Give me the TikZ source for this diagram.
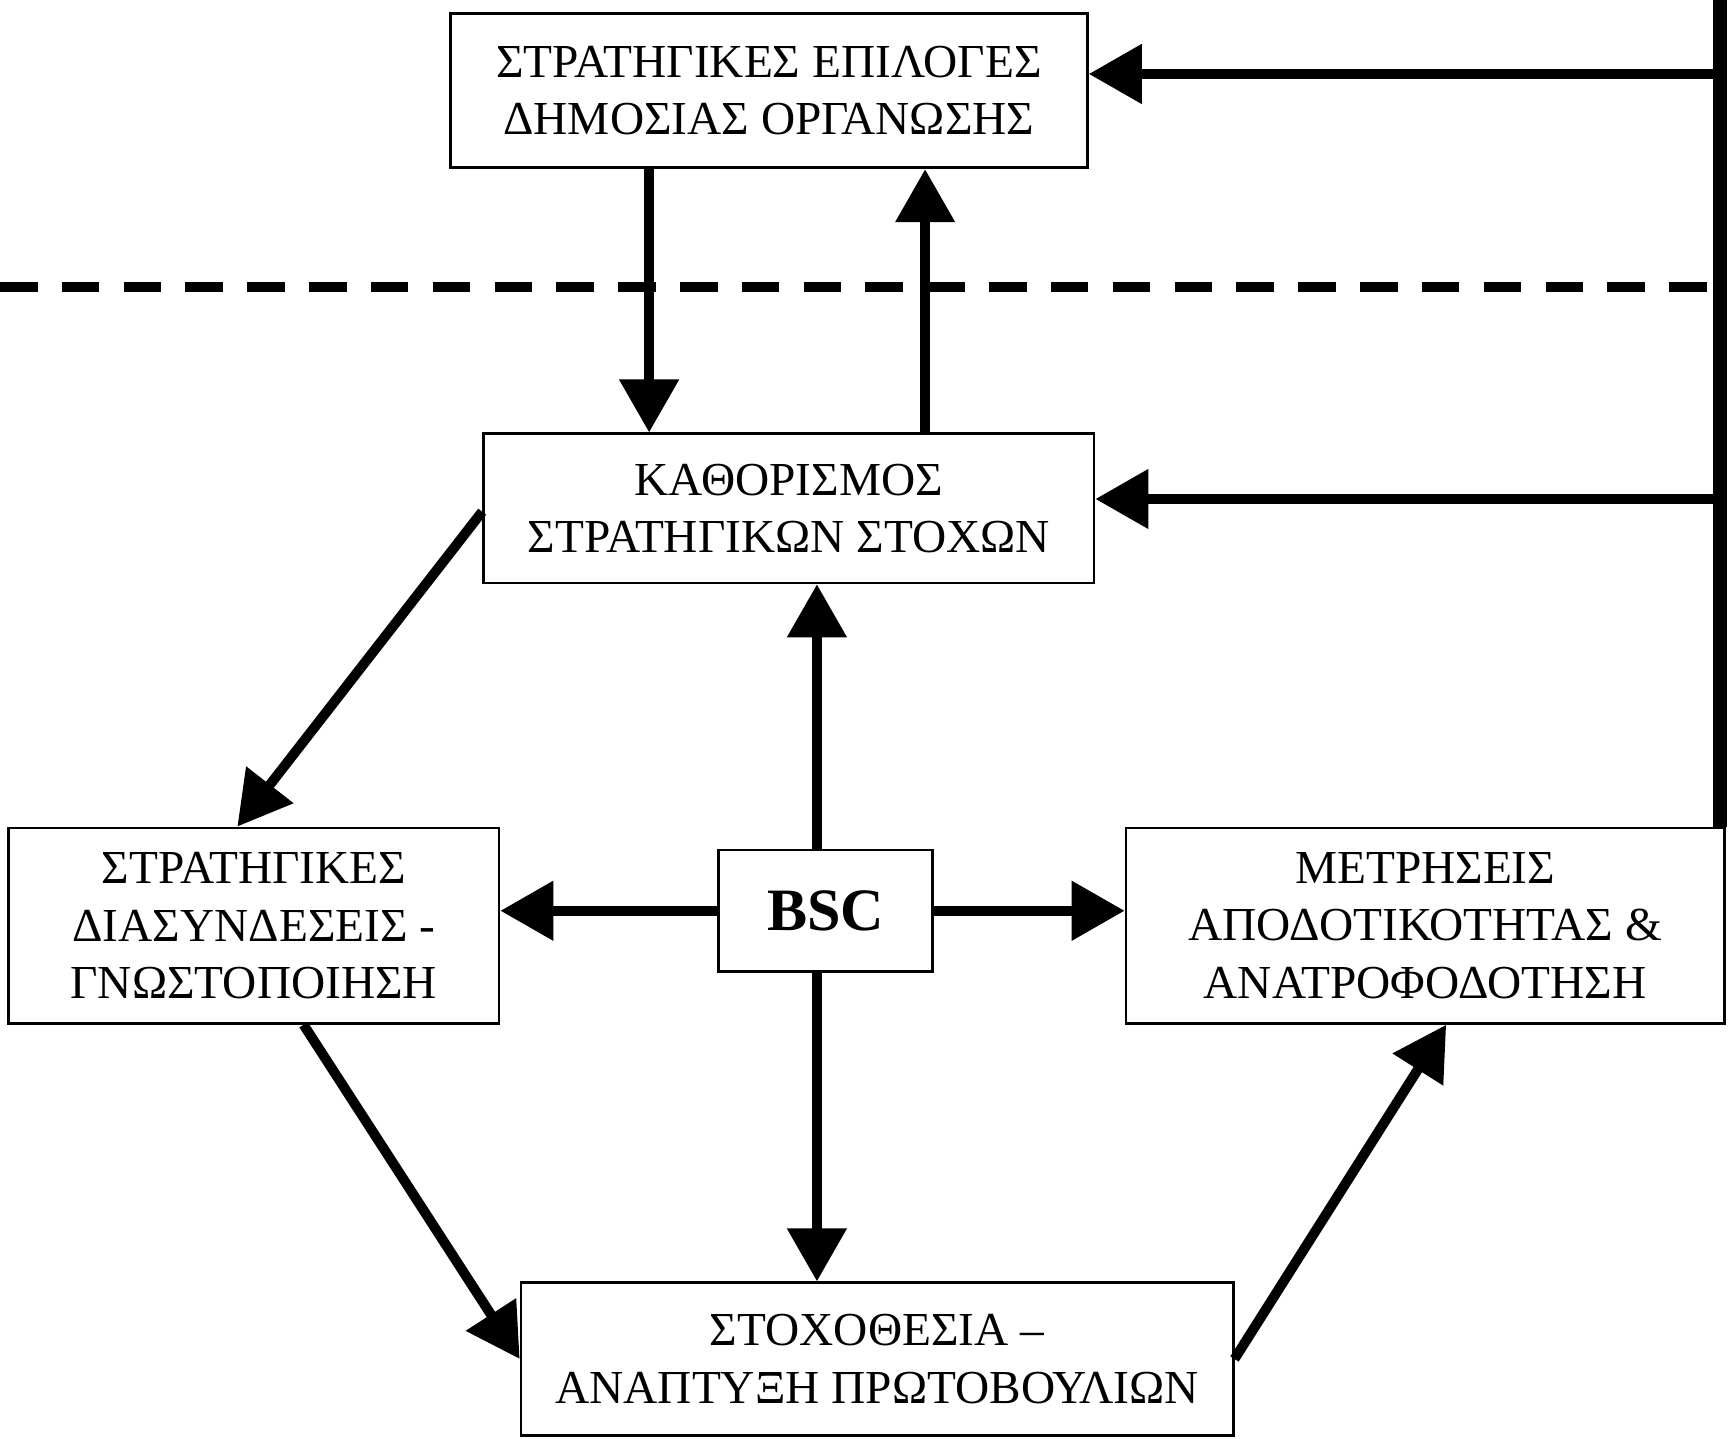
\documentclass[tikz,border=0pt]{standalone}
\usepackage{fontspec}
\setmainfont{Liberation Serif}
\usetikzlibrary{positioning, arrows.meta}

\begin{document}
\begin{tikzpicture}[x=0.1mm, y=-0.1mm, line width=0.9mm, >={Triangle[length=4.8mm, width=5.2mm]},
        box/.style={draw, line width=0.25mm, rectangle, align=center, inner sep=0pt, font=\fontsize{12.2}{14.8}\selectfont}]
        \useasboundingbox (0,0) rectangle (1568,1303);
        \node [box, minimum width=5.77cm, minimum height=1.40cm] (choices) at (696.5,82) {ΣΤΡΑΤΗΓΙΚΕΣ ΕΠΙΛΟΓΕΣ\\ΔΗΜΟΣΙΑΣ ΟΡΓΑΝΩΣΗΣ};
        \node [box, minimum width=5.53cm, minimum height=1.35cm] (goals) at (714.5,460.5) {ΚΑΘΟΡΙΣΜΟΣ\\ΣΤΡΑΤΗΓΙΚΩΝ ΣΤΟΧΩΝ};
        \node [box, minimum width=4.44cm, minimum height=1.77cm] (links) at (230,838.5) {ΣΤΡΑΤΗΓΙΚΕΣ\\ΔΙΑΣΥΝΔΕΣΕΙΣ -\\ΓΝΩΣΤΟΠΟΙΗΣΗ};
        \node [box, minimum width=1.94cm, minimum height=1.10cm, font=\fontsize{15.5}{18}\selectfont\bfseries] (bsc) at (748,825) {BSC};
        \node [box, minimum width=5.42cm, minimum height=1.77cm] (measures) at (1291,838.5) {ΜΕΤΡΗΣΕΙΣ\\ΑΠΟΔΟΤΙΚΟΤΗΤΑΣ \&\\ΑΝΑΤΡΟΦΟΔΟΤΗΣΗ};
        \node [box, minimum width=6.45cm, minimum height=1.38cm] (targets) at (794.5,1231) {ΣΤΟΧΟΘΕΣΙΑ –\\ΑΝΑΠΤΥΞΗ ΠΡΩΤΟΒΟΥΛΙΩΝ};

        % feedback bus on the right
        \coordinate (bustop) at (1558,0);
        \coordinate (fb1) at (1558,67);
        \coordinate (fb2) at (1558,452);
        \draw [line width=1.2mm] (bustop) -- (measures.north -| bustop);
        \draw [->] (fb1) -- (fb1 -| choices.east);
        \draw [->] (fb2) -- (fb2 -| goals.east);

        % dashed separation line
        \coordinate (sep) at (0,260);
        \draw [dash pattern=on 3.4mm off 2.2mm] (sep) -- (sep -| bustop);

        % top loop
        \coordinate (down) at (588,0);
        \coordinate (up) at (838,0);
        \draw [->] (choices.south -| down) -- (goals.north -| down);
        \draw [->] (goals.north -| up) -- (choices.south -| up);

        % around the BSC
        \coordinate (mid) at (740,0);
        \draw [->] (bsc.north -| mid) -- (goals.south -| mid);
        \draw [->] (bsc.south -| mid) -- (targets.north -| mid);
        \draw [->] (bsc.west) -- (links.east |- bsc.west);
        \draw [->] (bsc.east) -- (measures.west |- bsc.east);

        % cycle
        \draw [->] ([yshift=-0.3mm]goals.west) -- ([xshift=-1.5mm]links.north);
        \draw [->] ([xshift=4.5mm]links.south) -- (targets.west);
        \draw [->] (targets.east) -- ([xshift=1.9mm]measures.south);
    \end{tikzpicture}
\end{document}
